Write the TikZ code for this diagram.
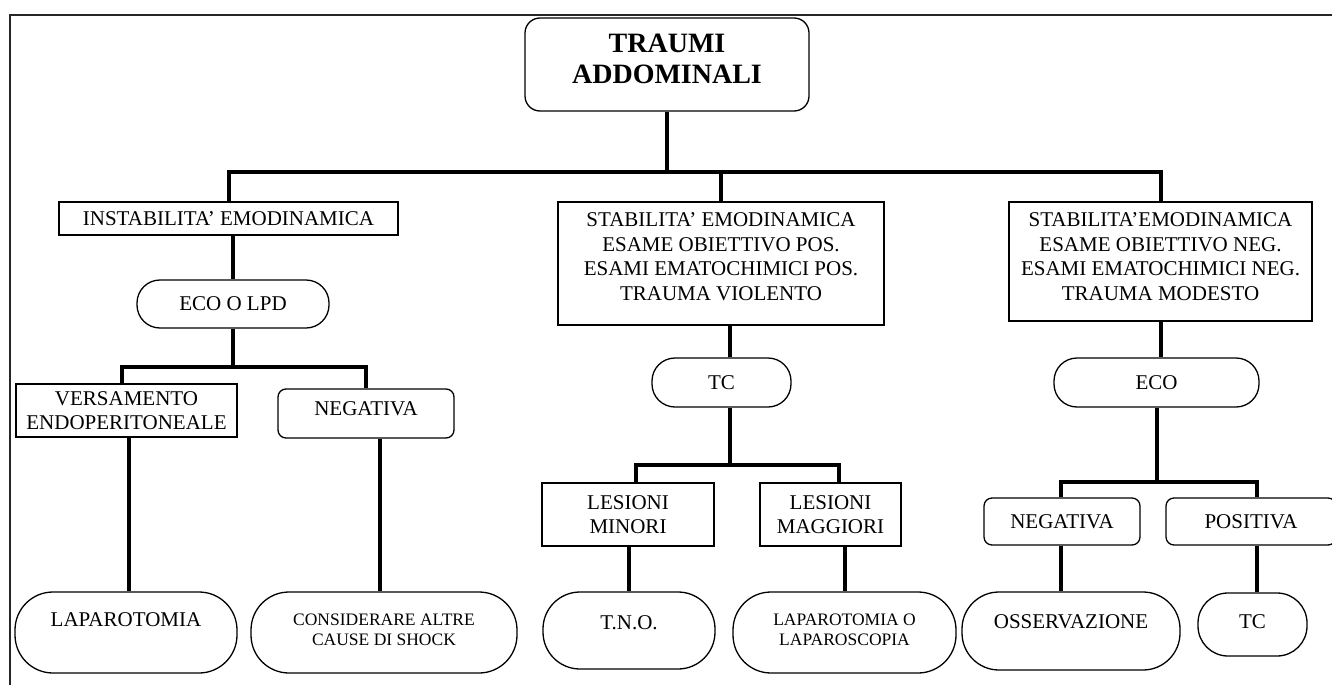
\documentclass[tikz,border=0pt]{standalone}
\usepackage{fontspec}
\setmainfont{Liberation Serif}
\begin{document}
\begin{tikzpicture}[x=1pt,y=-1pt,
  conn/.style={line width=4pt, line join=miter},
  sq/.style={draw, line width=1.3pt, inner sep=0pt, rectangle},
  rnd/.style={sq, rounded corners=#1},
  txt/.style={align=center, inner sep=0pt, font=\fontsize{21}{24.5}\selectfont},
  stxt/.style={align=center, inner sep=0pt, font=\fontsize{17.5}{20.5}\selectfont},
  btxt/.style={align=center, inner sep=0pt, font=\fontsize{28}{31}\selectfont\bfseries}]
\useasboundingbox (0,0) rectangle (1332,685);
\draw[line width=1.6pt, black!85] (1332,15) -- (10,15) -- (10,685);

% root
\node[rnd=15pt, minimum width=284pt, minimum height=93pt] (root) at (667,64.5) {};
\node[btxt] (root-t) at ([yshift=5.5pt]root.center) {TRAUMI\\ADDOMINALI};

% level 1
\node[sq, minimum width=339pt, minimum height=33pt] (instab) at (228.5,218.5) {};
\node[txt] (instab-t) at (instab.center) {INSTABILITA’ EMODINAMICA};
\node[sq, minimum width=326pt, minimum height=123pt] (mid) at (721,263.5) {};
\node[txt] (mid-t) at ([yshift=7pt]mid.center) {STABILITA’ EMODINAMICA\\ESAME OBIETTIVO POS.\\ESAMI EMATOCHIMICI POS.\\TRAUMA VIOLENTO};
\node[sq, minimum width=303pt, minimum height=119pt] (rbox) at (1160.5,261.5) {};
\node[txt] (rbox-t) at ([yshift=5pt]rbox.center) {STABILITA’EMODINAMICA\\ESAME OBIETTIVO NEG.\\ESAMI EMATOCHIMICI NEG.\\TRAUMA MODESTO};

% level 2
\node[rnd=23pt, minimum width=192pt, minimum height=48pt] (ecolpd) at (233,304) {};
\node[txt] (ecolpd-t) at (ecolpd.center) {ECO O LPD};
\node[rnd=23pt, minimum width=139pt, minimum height=49pt] (tc1) at (721.5,382.5) {};
\node[txt] (tc1-t) at (tc1.center) {TC};
\node[rnd=23pt, minimum width=205pt, minimum height=49pt] (eco) at (1156.5,382.5) {};
\node[txt] (eco-t) at (eco.center) {ECO};

% level 3
\node[sq, minimum width=221pt, minimum height=53pt] (vers) at (126.5,410.5) {};
\node[txt] (vers-t) at (vers.center) {VERSAMENTO\\ENDOPERITONEALE};
\node[rnd=8pt, minimum width=176pt, minimum height=49pt] (negL) at (366,413.5) {};
\node[txt] (negL-t) at ([yshift=5pt]negL.center) {NEGATIVA};
\node[sq, minimum width=172pt, minimum height=63pt] (lmin) at (628,514.5) {};
\node[txt] (lmin-t) at (lmin.center) {LESIONI\\MINORI};
\node[sq, minimum width=141pt, minimum height=63pt] (lmaj) at (830.5,514.5) {};
\node[txt] (lmaj-t) at (lmaj.center) {LESIONI\\MAGGIORI};
\node[rnd=8pt, minimum width=156pt, minimum height=47pt] (negR) at (1062,521.5) {};
\node[txt] (negR-t) at (negR.center) {NEGATIVA};
\node[rnd=8pt, minimum width=170pt, minimum height=47pt] (posR) at (1251,521.5) {};
\node[txt] (posR-t) at (posR.center) {POSITIVA};

% level 4
\node[rnd=38pt, minimum width=222pt, minimum height=81pt] (lap) at (126,632.5) {};
\node[txt] (lap-t) at ([yshift=12.5pt]lap.center) {LAPAROTOMIA};
\node[rnd=38pt, minimum width=266pt, minimum height=81pt] (consid) at (384,632.5) {};
\node[stxt] (consid-t) at ([yshift=2.5pt]consid.center) {CONSIDERARE ALTRE\\CAUSE DI SHOCK};
\node[rnd=37pt, minimum width=172pt, minimum height=77pt] (tno) at (629,630.5) {};
\node[txt] (tno-t) at ([yshift=8pt]tno.center) {T.N.O.};
\node[rnd=38pt, minimum width=223pt, minimum height=81pt] (lapo) at (844.5,632.5) {};
\node[stxt] (lapo-t) at ([yshift=2.5pt]lapo.center) {LAPAROTOMIA O\\LAPAROSCOPIA};
\node[rnd=37pt, minimum width=218pt, minimum height=78pt] (osserv) at (1071,631) {};
\node[txt] (osserv-t) at ([yshift=9pt]osserv.center) {OSSERVAZIONE};
\node[rnd=30pt, minimum width=109pt, minimum height=63pt] (tcR) at (1252.5,624.5) {};
\node[txt] (tcR-t) at ([yshift=2.5pt]tcR.center) {TC};

% connectors: top
\coordinate (busA) at (0,172);
\draw[conn] (root.south) -- (root.south |- busA);
\draw[conn] (instab.north) |- (busA -| rbox.north) -- (rbox.north);
\draw[conn] (mid.north) -- (mid.north |- busA);

% left branch
\draw[conn] (ecolpd.north |- instab.south) -- (ecolpd.north);
\coordinate (busB) at (0,367);
\draw[conn] (ecolpd.south) -- (ecolpd.south |- busB);
\draw[conn] ([xshift=-5pt]vers.north) |- (busB -| negL.north) -- (negL.north);
\coordinate (sv) at (129,0);
\draw[conn] (vers.south -| sv) -- (lap.north -| sv);
\coordinate (sn) at (380,0);
\draw[conn] (negL.south -| sn) -- (consid.north -| sn);

% middle branch
\coordinate (sm) at (730,0);
\draw[conn] (mid.south -| sm) -- (tc1.north -| sm);
\coordinate (busC) at (0,465);
\draw[conn] (tc1.south -| sm) -- (busC -| sm);
\coordinate (dl) at (636,0);
\coordinate (dr) at (839,0);
\draw[conn] (lmin.north -| dl) |- (busC -| dr) -- (lmaj.north -| dr);
\draw[conn] (lmin.south) -- (tno.north |- lmin.south) -- (tno.north);
\coordinate (s5) at (845,0);
\draw[conn] (lmaj.south -| s5) -- (lapo.north -| s5);

% right branch
\draw[conn] (rbox.south) -- (rbox.south |- eco.north);
\coordinate (busD) at (0,482);
\draw[conn] (eco.south) -- (eco.south |- busD);
\coordinate (dn) at (1061,0);
\coordinate (dp) at (1257,0);
\draw[conn] (negR.north -| dn) |- (busD -| dp) -- (posR.north -| dp);
\draw[conn] (negR.south -| dn) -- (osserv.north -| dn);
\draw[conn] (posR.south -| dp) -- (tcR.north -| dp);
\end{tikzpicture}
\end{document}
